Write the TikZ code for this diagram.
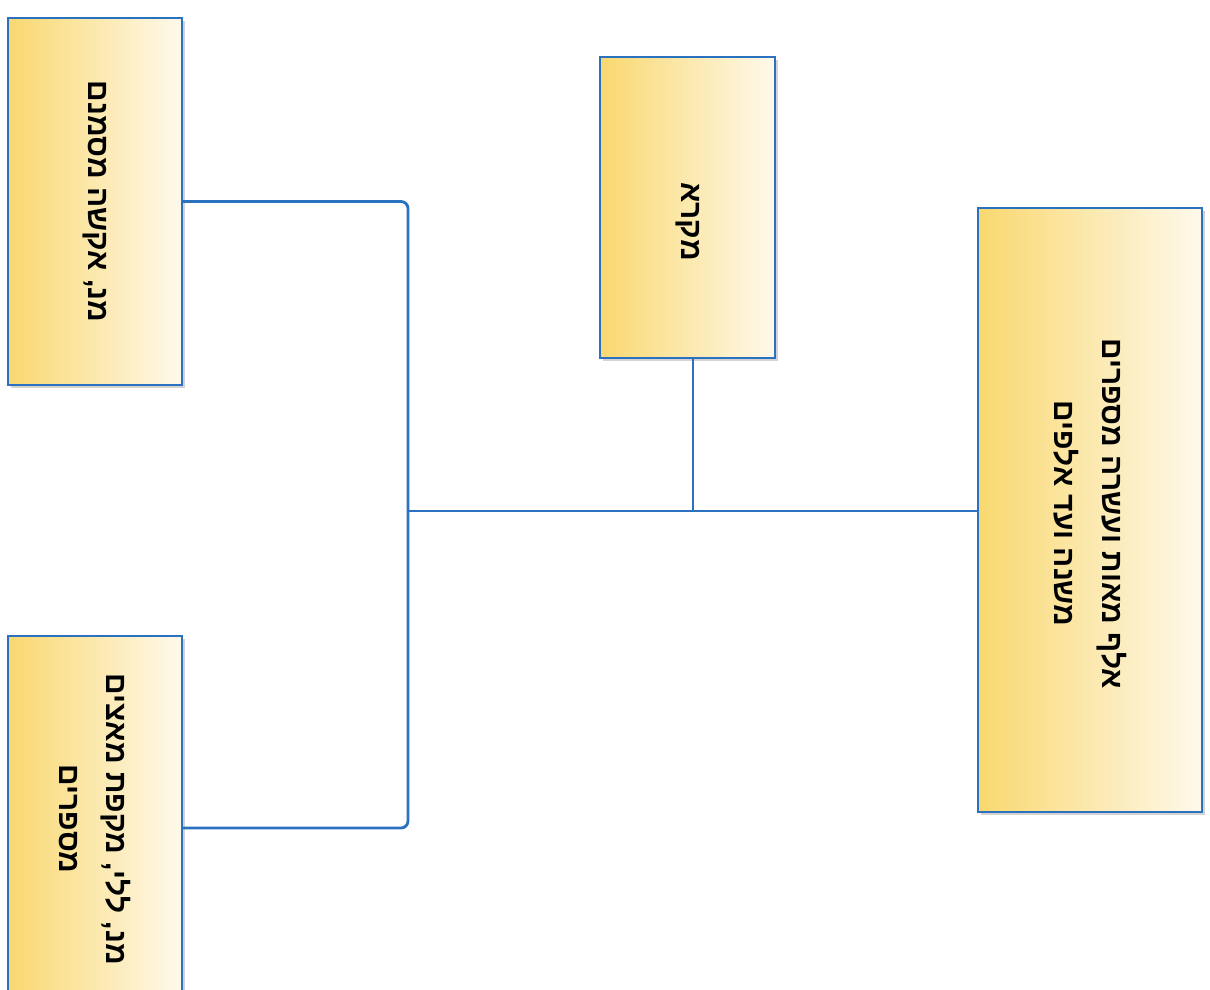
\documentclass[tikz,border=0pt]{standalone}
\usepackage{fontspec}
\newfontfamily\hebfont[Script=Hebrew]{Liberation Sans}
\TeXXeTstate=1
\usetikzlibrary{shadows}
\definecolor{boxline}{RGB}{42,114,192}
\definecolor{goldL}{RGB}{249,216,112}
\definecolor{goldM}{RGB}{252,236,185}
\definecolor{goldR}{RGB}{254,249,236}
\newcommand{\heb}[1]{\beginR #1\endR}
\tikzset{
  card/.style={draw=boxline, line width=1.4pt, left color=goldL, middle color=goldM,
    right color=goldR, inner sep=0pt, outer sep=0pt,
    drop shadow={shadow xshift=1.5pt, shadow yshift=-1.5pt, opacity=.35}},
  caption/.style={rotate=-90, align=center, text=black,
    font=\hebfont\bfseries\fontsize{17}{27}\selectfont},
  link/.style={draw=boxline, line width=1.6pt, rounded corners=4pt}
}
\begin{document}
\begin{tikzpicture}[x=0.02cm,y=-0.02cm]
  \useasboundingbox (0,0) rectangle (1210,990);
  \clip (0,0) rectangle (1210,990);
  % boxes
  \node[card, minimum width=3.48cm, minimum height=7.34cm] (lt) at (95,201.5) {};
  \node[card, minimum width=3.5cm, minimum height=6.02cm] (mid) at (687.5,207.5) {};
  \node[card, minimum width=4.48cm, minimum height=12.08cm] (root) at (1090,510) {};
  \node[card, minimum width=3.48cm, minimum height=7.68cm] (lb) at (95,828) {};
  % texts
  \node[caption] (lt-t) at (lt) {\heb{מנ, אקשה מסמנם}};
  \node[caption] (mid-t) at ([yshift=-8pt]mid.center) {\heb{מקרא}};
  \node[caption] (root-t) at ([yshift=-2pt]root.center) {\heb{אלף מאות ועשרה מספרים}\\\heb{משנה ועד אלפים}};
  \node[caption] (lb-t) at ([yshift=5pt]lb.center) {\heb{מנ, ללי, מקפת מאצים}\\\heb{מספרים}};
  % connectors
  \coordinate (hub) at (408,511);
  \coordinate (drop) at (693,358);
  \draw[link] (lt.east) -- (lt.east -| hub) -- (lb.east -| hub) -- (lb.east);
  \draw[link] (hub) -- (root.west |- hub);
  \draw[link] (drop) -- (drop |- hub);
\end{tikzpicture}
\end{document}
